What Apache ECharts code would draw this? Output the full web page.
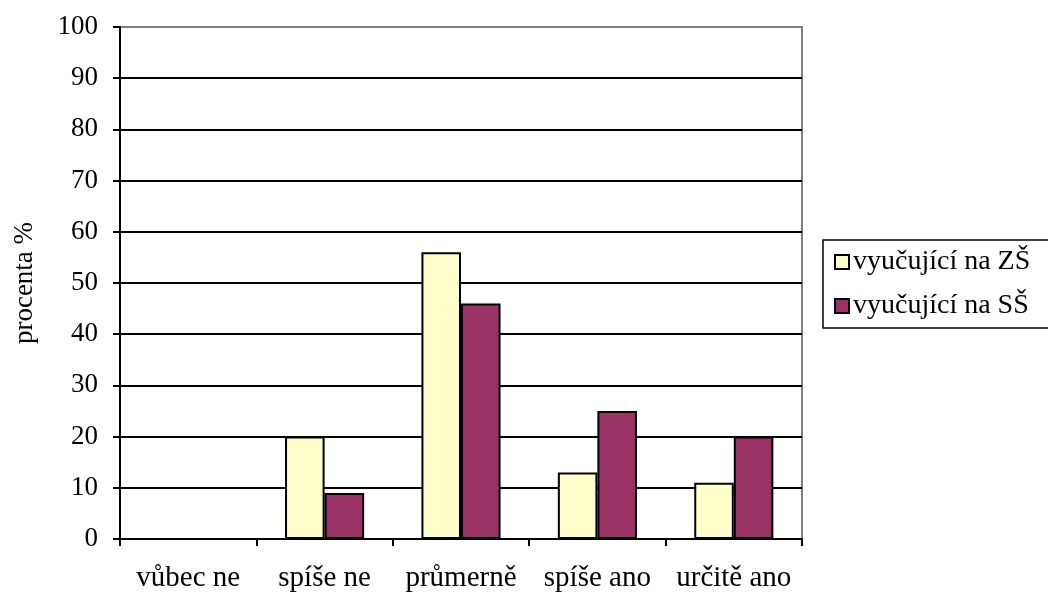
<!DOCTYPE html>
<html>
<head>
<meta charset="utf-8">
<script src="https://cdn.jsdelivr.net/npm/echarts@6/dist/echarts.min.js"></script>
<style>
  html, body { margin: 0; padding: 0; background: #fff; }
  #chart { width: 1048px; height: 593px; }
</style>
</head>
<body>
<div id="chart"></div>
<script>
// Survey answers per category, in percent
const categories = ['vůbec ne', 'spíše ne', 'průmerně', 'spíše ano', 'určitě ano'];
const seriesNames = ['vyučující na ZŠ', 'vyučující na SŠ'];
const valuesZS = [0, 20, 56, 13, 11];
const valuesSS = [0, 9, 46, 25, 20];
const yTicks = [0, 10, 20, 30, 40, 50, 60, 70, 80, 90, 100];

const FONT = '"Liberation Serif", "Times New Roman", serif';

const chart = echarts.init(document.getElementById('chart'), null, { renderer: 'canvas' });

// Split lines: black everywhere except the top edge, which stays grey like the frame
const splitColors = yTicks.map((t, i) => (i === yTicks.length - 1 ? '#808080' : '#000000'));

chart.setOption({
  animation: false,
  backgroundColor: '#ffffff',
  textStyle: { fontFamily: FONT },
  grid: {
    left: 120, right: 246, top: 27, bottom: 54,
    show: true,
    borderColor: '#808080',
    borderWidth: 2,
    backgroundColor: 'transparent'
  },
  legend: {
    orient: 'vertical',
    left: 823,
    top: 240,
    width: 260,
    padding: [8, 40, 8, 11],
    itemGap: 16,
    itemWidth: 14,
    itemHeight: 14,
    icon: 'rect',
    borderColor: '#000000',
    borderWidth: 1.5,
    textStyle: { fontFamily: FONT, fontSize: 28, color: '#000', padding: [0, 0, 0, -1] },
    data: seriesNames
  },
  xAxis: {
    type: 'category',
    data: categories,
    boundaryGap: true,
    axisLine: { show: true, lineStyle: { color: '#000', width: 2 } },
    axisTick: { show: true, interval: 0, alignWithLabel: false, length: 7, lineStyle: { color: '#000', width: 2 } },
    axisLabel: { interval: 0, hideOverlap: false, fontFamily: FONT, fontSize: 29, color: '#000', margin: 25 }
  },
  yAxis: {
    type: 'value',
    min: 0,
    max: 100,
    interval: 10,
    name: 'procenta %',
    nameLocation: 'middle',
    nameGap: 82,
    nameRotate: 90,
    nameTextStyle: { fontFamily: FONT, fontSize: 27, color: '#000' },
    axisLine: { show: true, lineStyle: { color: '#000', width: 2 } },
    axisTick: { show: true, length: 7, lineStyle: { color: '#000', width: 2 } },
    axisLabel: { fontFamily: FONT, fontSize: 27, color: '#000', margin: 22 },
    splitLine: { show: true, lineStyle: { color: splitColors, width: 2 } }
  },
  series: [
    {
      name: seriesNames[0],
      type: 'bar',
      data: valuesZS,
      barGap: '0%',
      barCategoryGap: '42%',
      itemStyle: { color: '#FFFFCC', borderColor: '#000', borderWidth: 2 }
    },
    {
      name: seriesNames[1],
      type: 'bar',
      data: valuesSS,
      barGap: '0%',
      barCategoryGap: '42%',
      itemStyle: { color: '#993366', borderColor: '#000', borderWidth: 2 }
    }
  ]
});
</script>
</body>
</html>
